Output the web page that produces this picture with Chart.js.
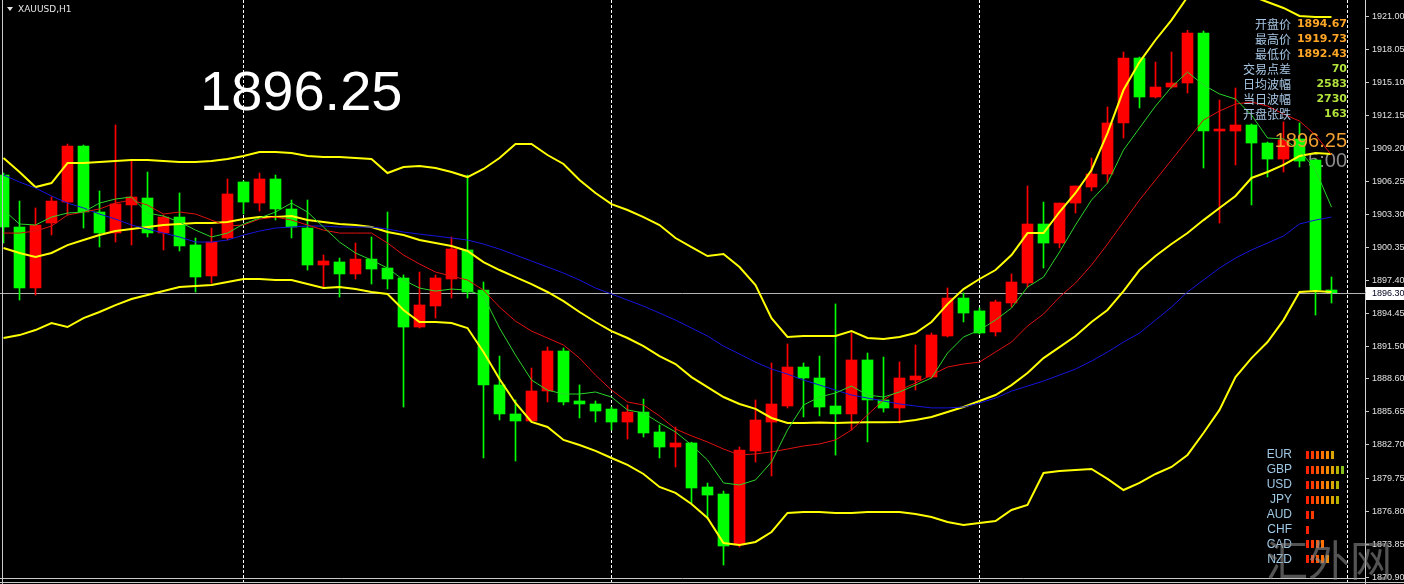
<!DOCTYPE html>
<html><head><meta charset="utf-8">
<script src="https://cdn.jsdelivr.net/npm/chart.js@4.4.1/dist/chart.umd.min.js"></script>
<style>html,body{margin:0;padding:0;background:#000;overflow:hidden}#wrap{position:relative;width:1404px;height:584px}</style>
</head><body><div id="wrap"><canvas id="c"></canvas></div>
<script>
// ---------- DATA (XAUUSD H1) ----------
const symbolTitle = 'XAUUSD,H1';
const bigPrice = '1896.25';
const bid = 1896.30;
const countdown = '5:00';

const opens = [1906.80,1902.16,1896.72,1902.52,1904.39,1909.39,1903.50,1901.63,1904.13,1904.75,
1901.63,1903.05,1900.56,1897.79,1901.18,1906.18,1904.30,1906.45,1903.77,1902.07,
1898.77,1899.04,1897.97,1899.30,1898.50,1897.61,1893.23,1895.11,1897.52,1900.11,
1896.54,1888.06,1885.47,1884.84,1887.52,1891.09,1886.63,1886.36,1885.91,1884.75,
1885.64,1883.86,1882.52,1882.88,1878.95,1878.32,1873.77,1882.16,1884.75,1886.18,
1889.66,1888.68,1886.18,1885.47,1890.29,1886.72,1886.00,1888.50,1888.77,1892.43,
1895.82,1894.67,1892.79,1895.38,1897.16,1902.43,1900.73,1904.30,1905.73,1906.89,
1911.45,1917.25,1913.77,1914.66,1915.02,1919.48,1910.73,1910.73,1911.27,1909.66,
1908.23,1910.02,1908.14,1896.54];
const highs = [1906.98,1904.48,1903.86,1904.84,1909.57,1909.48,1905.38,1911.27,1908.14,1907.07,
1903.23,1905.20,1901.18,1902.07,1906.45,1906.27,1906.98,1906.80,1904.57,1904.57,
1899.66,1899.39,1900.73,1901.27,1903.50,1897.88,1898.14,1897.88,1901.27,1906.80,
1897.25,1890.64,1886.72,1889.57,1891.45,1891.36,1888.06,1886.63,1886.09,1886.27,
1886.80,1884.48,1884.30,1882.95,1879.30,1878.59,1882.52,1886.72,1890.02,1891.72,
1890.02,1890.64,1895.29,1892.70,1890.91,1890.55,1890.11,1891.63,1892.70,1896.72,
1896.27,1894.93,1895.64,1897.97,1905.82,1904.39,1904.30,1905.82,1908.32,1912.88,
1917.79,1917.34,1916.89,1917.79,1919.73,1919.66,1913.50,1914.57,1911.36,1909.75,
1911.54,1911.45,1908.20,1897.70];
const lows = [1900.73,1895.64,1896.09,1901.45,1903.23,1902.07,1900.38,1900.82,1900.56,1901.27,
1900.11,1900.02,1896.36,1897.16,1901.00,1903.32,1903.59,1902.79,1901.18,1898.32,
1896.81,1895.91,1897.52,1897.07,1896.63,1886.09,1893.14,1894.04,1895.82,1895.82,
1881.54,1884.93,1881.27,1884.75,1886.54,1886.27,1885.11,1884.75,1884.04,1883.23,
1883.41,1881.54,1880.73,1877.52,1876.18,1871.98,1873.59,1881.18,1879.93,1886.00,
1885.20,1885.29,1881.80,1884.04,1882.97,1885.64,1884.66,1887.61,1888.68,1892.34,
1893.68,1892.61,1892.43,1895.02,1896.81,1898.50,1900.29,1903.41,1905.38,1906.09,
1910.11,1912.79,1913.68,1914.57,1914.13,1907.43,1902.52,1907.70,1904.13,1906.63,
1907.07,1907.52,1894.30,1895.38];
const closes = [1902.16,1896.72,1902.34,1904.48,1909.39,1903.50,1901.63,1904.22,1904.84,1901.63,
1903.05,1900.47,1897.70,1900.82,1905.11,1904.39,1906.45,1903.77,1902.16,1898.77,
1899.13,1897.97,1899.30,1898.41,1897.52,1893.23,1895.20,1897.61,1900.20,1896.36,
1888.06,1885.47,1884.84,1887.52,1891.09,1886.54,1886.36,1885.73,1884.75,1885.64,
1883.77,1882.52,1882.88,1878.86,1878.23,1873.68,1882.25,1884.93,1886.36,1889.66,
1888.68,1886.09,1885.47,1890.29,1886.72,1886.00,1888.68,1888.86,1892.52,1895.82,
1894.48,1892.70,1895.47,1897.25,1902.43,1900.73,1904.30,1905.82,1906.89,1911.45,
1917.25,1913.77,1914.66,1915.02,1919.48,1910.73,1910.91,1911.27,1909.66,1908.23,
1909.93,1908.05,1896.54,1896.30];

const bbUpper = [1908.32,1907.07,1905.73,1906.09,1907.87,1907.87,1907.96,1908.05,1908.14,1908.14,
1908.05,1907.96,1907.96,1908.05,1908.23,1908.50,1908.86,1908.86,1908.77,1908.50,
1908.41,1908.41,1908.32,1908.23,1906.98,1907.52,1907.61,1907.43,1907.07,1906.62,
1907.34,1908.32,1909.57,1909.57,1908.59,1907.79,1906.36,1905.20,1904.21,1903.68,
1903.05,1902.34,1901.18,1900.37,1899.57,1899.75,1898.59,1896.98,1894.03,1892.34,
1892.43,1892.43,1892.43,1892.87,1892.25,1892.16,1892.34,1892.69,1893.68,1895.28,
1896.62,1897.52,1898.32,1899.66,1901.62,1901.62,1903.50,1905.20,1907.25,1910.55,
1914.39,1916.89,1918.86,1920.64,1922.70,1923.30,1923.50,1923.30,1922.79,1922.25,
1921.72,1921.00,1920.91,1920.91];
const bbMiddle = [1900.28,1899.84,1899.48,1899.84,1900.55,1901.00,1901.44,1901.80,1901.98,1902.16,
1902.34,1902.43,1902.52,1902.52,1902.61,1902.87,1903.05,1903.05,1903.14,1902.78,
1902.61,1902.43,1902.34,1902.16,1901.71,1901.44,1901.00,1900.73,1900.46,1900.02,
1899.03,1898.32,1897.69,1897.07,1896.36,1895.55,1894.57,1893.68,1892.87,1892.25,
1891.53,1890.64,1889.93,1888.76,1887.87,1886.98,1886.36,1885.92,1885.11,1884.67,
1884.67,1884.70,1884.67,1884.70,1884.72,1884.72,1884.76,1884.93,1885.20,1885.65,
1886.09,1886.63,1887.16,1888.05,1889.12,1890.46,1891.44,1892.43,1893.68,1894.75,
1896.44,1898.32,1899.57,1900.64,1901.62,1902.78,1903.86,1904.93,1906.54,1907.07,
1907.70,1908.50,1908.77,1908.68];
const bbLower = [1892.25,1892.51,1892.96,1893.59,1893.23,1894.03,1894.57,1895.19,1895.73,1896.09,
1896.44,1896.80,1896.89,1896.98,1897.25,1897.52,1897.52,1897.43,1897.43,1897.07,
1896.71,1896.80,1896.62,1896.36,1896.18,1894.75,1893.68,1893.68,1893.59,1893.14,
1891.00,1888.59,1886.45,1884.76,1884.31,1883.15,1882.70,1882.17,1881.54,1880.92,
1880.11,1878.95,1878.42,1877.43,1876.18,1873.95,1873.77,1874.04,1874.93,1876.63,
1876.72,1876.72,1876.63,1876.63,1876.72,1876.72,1876.72,1876.54,1876.27,1875.83,
1875.56,1875.74,1875.91,1876.90,1877.34,1880.20,1880.38,1880.47,1880.56,1879.67,
1878.68,1879.31,1880.11,1880.74,1881.81,1883.77,1885.83,1888.76,1890.46,1891.89,
1893.85,1896.36,1896.44,1896.36];
const maFast = [1903.68,1902.43,1902.34,1903.05,1903.41,1903.50,1904.30,1904.66,1904.84,1903.41,
1903.14,1902.61,1901.89,1901.27,1901.62,1902.43,1902.96,1903.50,1904.30,1903.50,
1902.16,1900.82,1899.84,1899.21,1898.50,1897.43,1896.71,1896.44,1896.62,1896.53,
1896.00,1893.14,1890.73,1888.50,1887.60,1887.25,1887.25,1887.43,1886.98,1885.83,
1885.56,1884.67,1883.86,1882.70,1881.36,1879.31,1879.13,1879.58,1881.18,1884.04,
1886.27,1886.98,1887.34,1887.96,1887.16,1886.98,1887.43,1888.05,1888.68,1890.91,
1892.34,1892.96,1893.85,1894.93,1896.80,1897.69,1899.93,1902.34,1904.57,1906.09,
1909.04,1911.00,1912.96,1914.66,1916.00,1914.84,1914.04,1913.59,1912.16,1910.11,
1910.02,1909.04,1907.25,1903.94];
const maMid = [1901.62,1901.62,1901.80,1902.25,1903.23,1903.50,1903.77,1904.30,1904.57,1904.12,
1903.32,1903.50,1903.32,1902.78,1902.25,1902.34,1902.87,1903.05,1902.78,1902.34,
1901.89,1901.62,1901.62,1901.62,1900.73,1899.66,1898.86,1898.14,1897.78,1897.43,
1896.53,1895.01,1893.76,1892.87,1892.25,1891.62,1890.46,1888.94,1887.60,1886.54,
1886.27,1885.29,1884.13,1883.51,1882.97,1882.34,1881.81,1881.90,1882.08,1882.34,
1882.61,1882.79,1883.15,1884.04,1885.38,1886.72,1887.60,1888.23,1888.94,1889.66,
1889.93,1890.10,1891.00,1891.89,1893.32,1894.39,1895.91,1897.16,1898.77,1900.64,
1902.61,1904.57,1906.36,1908.14,1909.93,1911.71,1912.52,1913.14,1913.32,1912.96,
1912.25,1911.62,1910.37,1908.59];
const maSlow = [1906.80,1906.18,1905.64,1904.93,1904.30,1903.86,1903.32,1902.87,1902.34,1901.98,
1901.62,1901.27,1900.82,1900.82,1901.00,1901.44,1901.80,1902.07,1902.16,1902.25,
1902.25,1902.16,1902.16,1902.16,1901.98,1901.71,1901.53,1901.36,1901.18,1901.00,
1900.64,1900.19,1899.66,1899.12,1898.59,1898.05,1897.43,1896.71,1896.18,1895.64,
1895.10,1894.48,1893.85,1893.14,1892.43,1891.53,1890.82,1890.10,1889.48,1889.03,
1888.50,1888.05,1887.60,1887.16,1886.89,1886.63,1886.36,1886.18,1886.01,1886.01,
1886.09,1886.45,1886.89,1887.51,1887.96,1888.41,1888.94,1889.48,1890.19,1891.00,
1891.89,1892.69,1893.85,1895.01,1896.36,1897.43,1898.50,1899.39,1900.11,1900.73,
1901.36,1902.43,1902.78,1903.05];

const yTicks = [1921.00,1918.05,1915.10,1912.15,1909.20,1906.25,1903.30,1900.35,1897.40,
1894.45,1891.50,1888.60,1885.65,1882.70,1879.75,1876.80,1873.85,1870.90];
const gridBars = [15,38,61,84];

const infoLabels = ['开盘价','最高价','最低价','交易点差','日均波幅','当日波幅','开盘张跌'];
const infoValues = ['1894.67','1919.73','1892.43','70','2583','2730','163'];
const currencies = ['EUR','GBP','USD','JPY','AUD','CHF','CAD','NZD'];
const strength = [6,8,7,7,2,1,4,5];
const watermark = '汇外网';

// ---------- CHART ----------
const UP = '#ff0000', DOWN = '#00ff00';
const candleCol = opens.map((o,i)=> closes[i] >= o ? UP : DOWN);
const pts = arr => arr.map((v,i)=>({x:i, y:v}));
const lineDs = (data, color, w, order) => ({type:'line', data: pts(data), borderColor: color,
  borderWidth: w, pointRadius: 0, tension: 0, fill: false, order});

const segCols = ['#ff2200','#ff3a00','#ff5500','#ff7000','#f58c00','#dca400','#b4b400','#86bf1c','#6cc020'];

const overlay = {
  id: 'overlay',
  beforeDraw(chart) {
    const c = chart.ctx; c.save(); c.fillStyle = '#000'; c.fillRect(0,0,chart.width,chart.height); c.restore();
  },
  beforeDatasetsDraw(chart) {
    const c = chart.ctx, xs = chart.scales.x, ys = chart.scales.y, ca = chart.chartArea;
    c.save();
    c.strokeStyle = '#ffffff'; c.lineWidth = 1; c.setLineDash([3,2]);
    gridBars.forEach(g => { const px = xs.getPixelForValue(g);
      c.beginPath(); c.moveTo(px, 0); c.lineTo(px, chart.height); c.stroke(); });
    c.setLineDash([]);
    const py = Math.round(ys.getPixelForValue(bid)) + 0.5;
    c.strokeStyle = '#b4b4b4';
    c.beginPath(); c.moveTo(ca.left, py); c.lineTo(ca.right, py); c.stroke();
    c.fillStyle = '#8c8c8c'; c.font = '20px "Liberation Sans"'; c.textAlign = 'right'; c.textBaseline = 'alphabetic';
    c.fillText(countdown, 1347, 167);
    c.restore();
  },
  afterDraw(chart) {
    const c = chart.ctx, ys = chart.scales.y;
    c.save();
    // frame
    c.strokeStyle = '#c8c8c8'; c.lineWidth = 1;
    c.beginPath(); c.moveTo(2.5, 0); c.lineTo(2.5, 584); c.stroke();
    c.beginPath(); c.moveTo(0, 578.5); c.lineTo(1365, 578.5); c.stroke();
    c.beginPath(); c.moveTo(0, 582.5); c.lineTo(1404, 582.5); c.stroke();
    // title
    c.fillStyle = '#e6e6e6';
    c.beginPath(); c.moveTo(7,7); c.lineTo(13,7); c.lineTo(10,11); c.closePath(); c.fill();
    c.font = '9px "DejaVu Sans"'; c.textAlign = 'left'; c.textBaseline = 'alphabetic';
    c.fillText(symbolTitle, 18, 12);
    // big price
    c.fillStyle = '#ffffff'; c.font = '56px "Liberation Sans"';
    c.fillText(bigPrice, 200, 110);
    // info panel
    c.textBaseline = 'middle';
    infoLabels.forEach((t,i) => {
      const yy = 24 + i*15;
      c.textAlign = 'right';
      c.fillStyle = '#a6c6e4'; c.font = '12px "Noto Sans CJK SC"';
      c.fillText(t, 1291, yy);
      c.fillStyle = i < 3 ? '#ffa526' : '#b2e23c'; c.font = 'bold 11px "DejaVu Sans"';
      c.fillText(infoValues[i], 1347, yy + 0.5);
    });
    // orange price
    c.textBaseline = 'alphabetic'; c.textAlign = 'right';
    c.fillStyle = '#f0a030'; c.font = '20px "Liberation Sans"';
    c.fillText(bigPrice, 1347, 147);
    // currency strength panel
    c.textBaseline = 'middle';
    currencies.forEach((cur,i) => {
      const yy = 455 + i*14.9;
      c.textAlign = 'right'; c.fillStyle = '#9fc8e4'; c.font = '12px "Liberation Sans"';
      c.fillText(cur, 1292, yy);
      for (let j = 0; j < strength[i]; j++) {
        c.fillStyle = segCols[j];
        c.fillRect(1306 + j*5, Math.round(yy) - 4, 3, 8);
      }
    });
    // bid label
    const py = Math.round(ys.getPixelForValue(bid));
    c.fillStyle = '#ffffff'; c.fillRect(1366, py - 6, 38, 13);
    c.fillStyle = '#000020'; c.font = '9px "Liberation Sans"'; c.textAlign = 'left';
    c.fillText(bid.toFixed(2), 1372, py + 0.5);
    // watermark
    c.textBaseline = 'alphabetic'; c.textAlign = 'left';
    c.fillStyle = 'rgba(140,140,140,0.6)'; c.font = '42px "Noto Sans CJK SC"';
    c.fillText(watermark, 1266, 576);
    c.restore();
  }
};

new Chart(document.getElementById('c').getContext('2d'), {
  type: 'bar',
  data: { datasets: [
    lineDs(maFast, '#2ad42a', 1, 1),
    lineDs(maMid, '#e01010', 1, 1),
    lineDs(maSlow, '#1515dc', 1, 1),
    lineDs(bbUpper, '#ffff00', 2, 2),
    lineDs(bbMiddle, '#ffff00', 2, 2),
    lineDs(bbLower, '#ffff00', 2, 2),
    { type:'bar', data: opens.map((o,i)=>({x:i, y:[o, closes[i]]})), backgroundColor: candleCol,
      barThickness: 11, grouped: false, borderWidth: 0, minBarLength: 1, order: 4 },
    { type:'bar', data: opens.map((o,i)=>({x:i, y:[lows[i], highs[i]]})), backgroundColor: candleCol,
      barThickness: 1, grouped: false, borderWidth: 0, order: 5 }
  ]},
  options: {
    responsive: true, maintainAspectRatio: false, animation: false, events: [],
    devicePixelRatio: 1,
    layout: { padding: 0 },
    plugins: { legend: {display:false}, tooltip: {enabled:false} },
    scales: {
      x: { type: 'linear', display: false, offset: false, min: -3.5/16, max: (1365-3.5)/16 },
      y: { type: 'linear', position: 'right', min: 1922.43 - 584/11.2, max: 1922.43, beginAtZero: false,
        afterFit: s => { s.width = 39; s.paddingTop = 0; s.paddingBottom = 0; },
        afterBuildTicks: s => { s.ticks = yTicks.map(v => ({value: v})); },
        ticks: { callback: v => Number(v).toFixed(2), color: '#e2e2e2', autoSkip: false,
          font: { family: 'Liberation Sans', size: 9 }, padding: 3 },
        grid: { drawOnChartArea: false, drawTicks: true, tickLength: 4, color: '#c8c8c8' },
        border: { display: true, color: '#d2d2d2', width: 1 }
      }
    }
  },
  plugins: [overlay]
});
</script></body></html>
